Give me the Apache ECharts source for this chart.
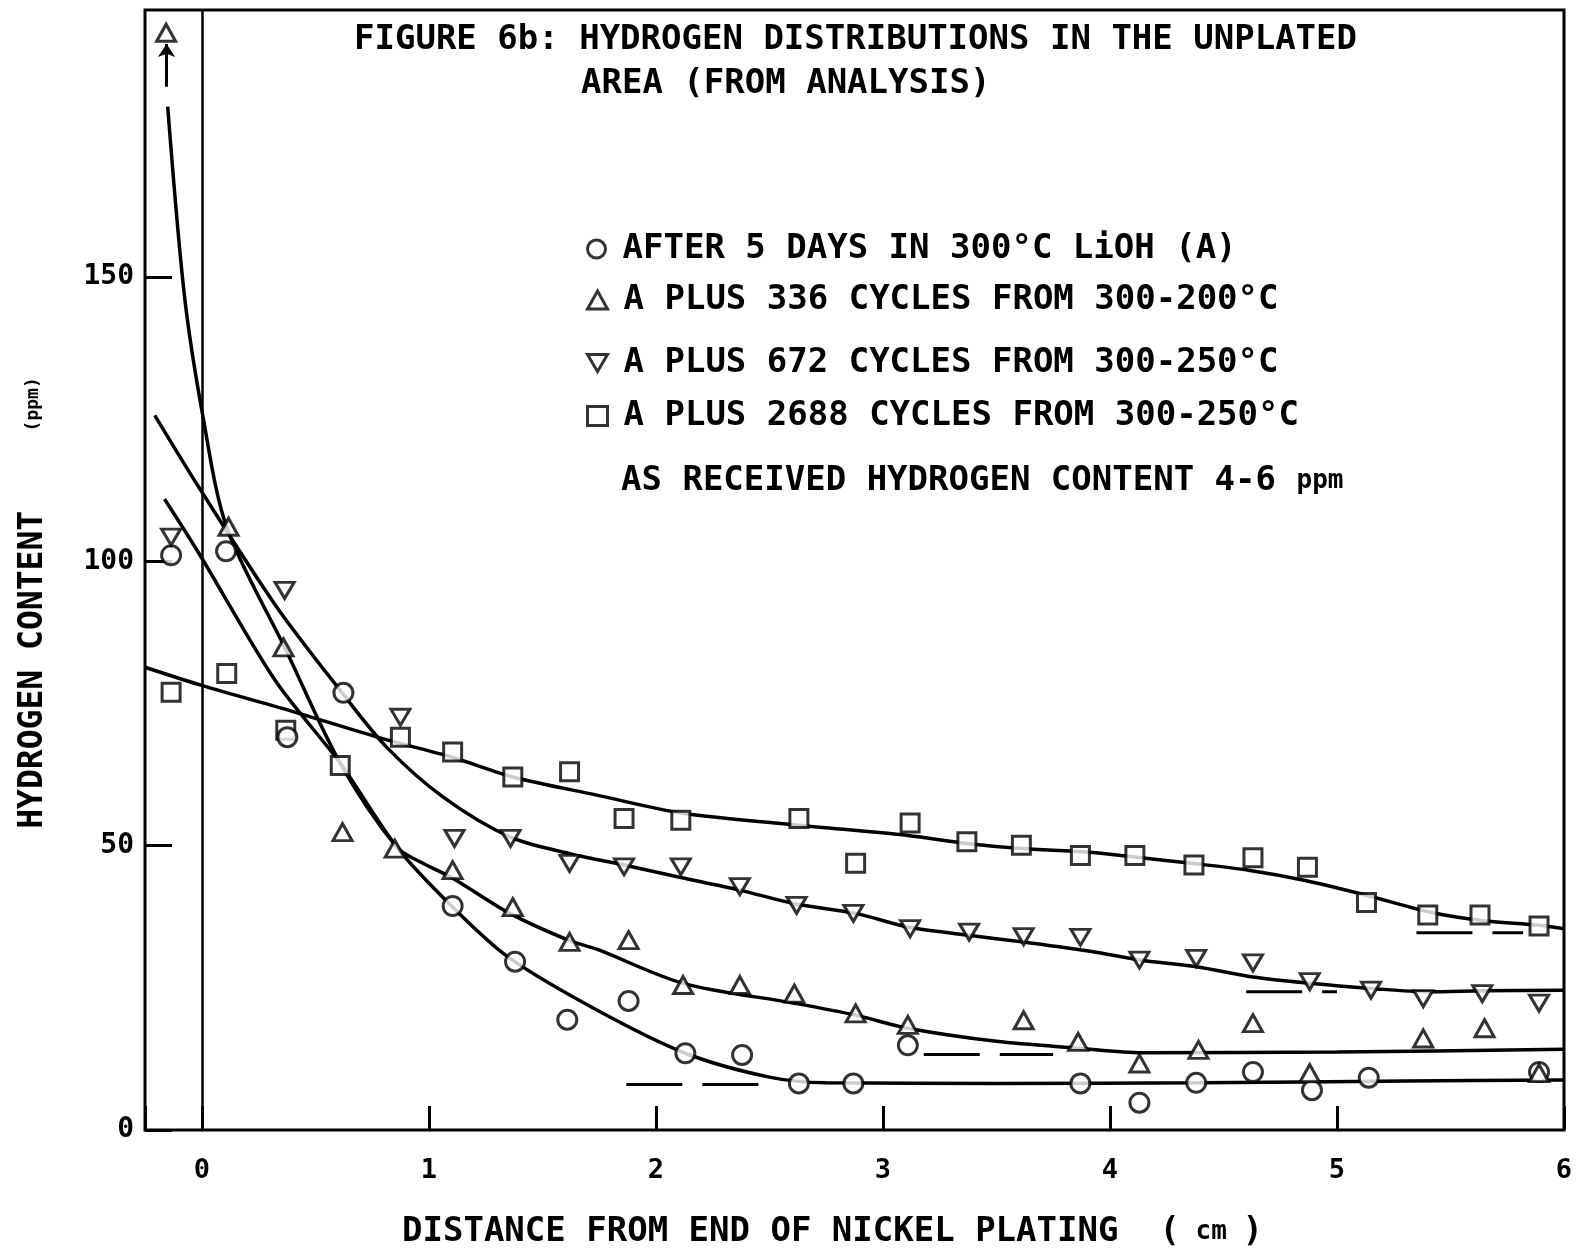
<!DOCTYPE html>
<html><head><meta charset="utf-8">
<script src="https://cdn.jsdelivr.net/npm/echarts@6/dist/echarts.min.js"></script>
<style>html,body{margin:0;padding:0;background:#fff}#c{width:1580px;height:1257px}</style>
</head><body><div id="c"></div>
<script>
// ---- tick labels ----
const xTickValues = [0, 1, 2, 3, 4, 5, 6];
const xTickLabels = ['0', '1', '2', '3', '4', '5', '6'];
const yTickValues = [0, 50, 100, 150];
const yTickLabels = ['0', '50', '100', '150'];

// ---- series names ----
const seriesNames = [
  'AFTER 5 DAYS IN 300°C LiOH (A)',
  'A PLUS 336 CYCLES FROM 300-200°C',
  'A PLUS 672 CYCLES FROM 300-250°C',
  'A PLUS 2688 CYCLES FROM 300-250°C'
];

// ---- measured points ----
const circleX = [-0.135, 0.107, 0.377, 0.624, 1.105, 1.38, 1.61, 1.88, 2.13, 2.38, 2.63, 2.87, 3.11, 3.87, 4.13, 4.38, 4.63, 4.89, 5.14, 5.89];
const circleY = [101.1, 101.8, 69.1, 76.9, 39.4, 29.6, 19.4, 22.7, 13.5, 13.2, 8.2, 8.2, 14.9, 8.2, 4.8, 8.3, 10.2, 7.0, 9.2, 10.2];

const triUpX = [-0.157, 0.118, 0.36, 0.62, 0.85, 1.105, 1.37, 1.62, 1.88, 2.12, 2.37, 2.61, 2.88, 3.11, 3.62, 3.86, 4.13, 4.39, 4.63, 4.88, 5.38, 5.65, 5.89];
const triUpY = [193, 106.1, 84.9, 52.4, 49.5, 45.7, 39.2, 33.1, 33.4, 25.5, 25.5, 24.0, 20.5, 18.5, 19.3, 15.5, 11.7, 14.1, 18.8, 10.0, 16.1, 17.9, 10.0];

const triDownX = [-0.135, 0.365, 0.875, 1.113, 1.36, 1.62, 1.86, 2.11, 2.37, 2.62, 2.87, 3.12, 3.38, 3.62, 3.87, 4.13, 4.38, 4.63, 4.88, 5.15, 5.38, 5.64, 5.89];
const triDownY = [104.3, 94.9, 72.6, 51.3, 51.3, 46.9, 46.3, 46.3, 42.8, 39.5, 38.1, 35.4, 34.8, 34.0, 33.9, 29.9, 30.2, 29.4, 26.1, 24.6, 23.1, 24.0, 22.3];

const squareX = [-0.135, 0.11, 0.37, 0.61, 0.875, 1.105, 1.37, 1.62, 1.86, 2.11, 2.63, 2.88, 3.12, 3.37, 3.61, 3.87, 4.11, 4.37, 4.63, 4.87, 5.13, 5.4, 5.63, 5.89];
const squareY = [77.0, 80.3, 70.3, 64.1, 69.1, 66.5, 62.1, 63.0, 54.8, 54.5, 54.8, 46.9, 54.0, 50.7, 50.1, 48.3, 48.3, 46.6, 47.9, 46.2, 40.0, 37.8, 37.8, 35.9];

// ---- fitted curves (hand drawn in the original) ----
const curveCircleX = [-0.164, -0.012, 0.323, 0.61, 0.86, 1.105, 1.35, 1.74, 2.13, 2.5, 2.75, 3.5, 4.4, 5.3, 6];
const curveCircleY = [111, 101.4, 79.1, 64.5, 49.7, 39.2, 30.4, 21.1, 13.5, 9.3, 8.3, 8.2, 8.3, 8.6, 8.8];

const curveTriUpX = [-0.15, -0.077, 0.003, 0.11, 0.365, 0.61, 0.86, 0.97, 1.105, 1.357, 1.62, 1.74, 2.12, 2.61, 2.88, 3.11, 3.5, 3.86, 4.14, 5.0, 6];
const curveTriUpY = [180, 147, 126, 106, 84.9, 64.5, 49.7, 47, 44.3, 38.1, 33.3, 31.8, 25.8, 22.3, 20.2, 17.9, 15.6, 14.4, 13.6, 13.7, 14.2];

const curveTriDownX = [-0.207, -0.012, 0.33, 0.62, 0.815, 1.065, 1.36, 1.62, 1.86, 2.1, 2.37, 2.61, 2.88, 3.11, 3.37, 3.61, 3.92, 4.13, 4.38, 4.63, 4.88, 5.15, 5.4, 5.65, 6];
const curveTriDownY = [125.7, 113, 92, 76.8, 67.3, 58.5, 51.5, 48.6, 46.6, 44.5, 42.2, 39.8, 38.1, 35.7, 34.3, 33.1, 31.4, 29.9, 28.7, 26.9, 25.8, 24.9, 24.3, 24.5, 24.6];

const curveSquareX = [-0.25, 0, 0.41, 0.8, 1.1, 1.37, 1.74, 2.12, 2.63, 3.11, 3.37, 3.61, 3.9, 4.11, 4.36, 4.61, 4.86, 5.13, 5.4, 5.63, 5.89, 6];
const curveSquareY = [81.4, 78.2, 73.5, 68.8, 65.6, 62.1, 58.9, 55.7, 53.6, 51.8, 50.4, 49.5, 48.9, 48.0, 46.9, 45.7, 43.9, 41.3, 38.4, 36.9, 36.0, 35.4];

// ---- dashed level segments ----
const levelY = [8.0, 13.3, 24.3, 34.7];
const levelStart = [1.87, 3.18, 4.6, 5.35];
const levelEnd = [2.49, 3.75, 5.0, 5.82];

// ---- off-scale arrow for the first triangle ----
const arrowX = -0.155;
const arrowFrom = 183.5;
const arrowTo = 191;

const FONT = 'DejaVu Sans Mono';
const zip = (xs, ys) => xs.map((x, i) => [x, ys[i]]);
const DOWN_TRI = 'path://M0,0L20,0L10,17Z';

const markerStyle = { color: '#fff', borderColor: '#000', borderWidth: 3 };
const curveStyle = { color: '#000', width: 3.5 };

function curve(name, xs, ys, extra) {
  return Object.assign({
    name: name, type: 'line', data: zip(xs, ys), showSymbol: false, symbol: 'none',
    smooth: 0.3, lineStyle: curveStyle, itemStyle: { color: '#000' }, z: 2, silent: true
  }, extra || {});
}
function marks(name, xs, ys, symbol, size, extra) {
  return Object.assign({
    name: name, type: 'scatter', data: zip(xs, ys), symbol: symbol, symbolSize: size,
    itemStyle: markerStyle, z: 5, silent: true
  }, extra || {});
}

const series = [
  curve('c0', curveCircleX, curveCircleY, {
    markLine: {
      silent: true, symbol: ['none', 'none'], label: { show: false },
      lineStyle: { color: '#000', width: 2.5, type: 'solid' },
      data: [{ xAxis: 0 }]
    }
  }),
  curve('c1', curveTriUpX, curveTriUpY),
  curve('c2', curveTriDownX, curveTriDownY),
  curve('c3', curveSquareX, curveSquareY)
];
levelY.forEach((y, i) => {
  series.push({
    name: 'lvl' + i, type: 'line', data: [[levelStart[i], y], [levelEnd[i], y]],
    showSymbol: false, symbol: 'none', silent: true, z: 1,
    lineStyle: { color: '#000', width: 3, type: [56, 20] }
  });
});
series.push(
  marks(seriesNames[3], squareX, squareY, 'rect', 18),
  marks(seriesNames[0], circleX, circleY, 'circle', 19),
  marks(seriesNames[2], triDownX, triDownY, DOWN_TRI, [19, 16]),
  marks(seriesNames[1], triUpX, triUpY, 'triangle', [19, 17], {
    markLine: {
      silent: true, symbol: ['none', 'arrow'], symbolSize: 13,
      label: { show: false }, lineStyle: { color: '#000', width: 3, type: 'solid' },
      data: [[{ coord: [arrowX, arrowFrom] }, { coord: [arrowX, arrowTo] }]]
    }
  })
);

const legendY = [249, 300, 363, 416];
const legendIcons = ['circle', 'triangle', DOWN_TRI, 'rect'];
const legends = seriesNames.map((n, i) => ({
  data: [{ name: n, icon: legendIcons[i] }],
  left: 586, top: legendY[i] - 17, padding: 0,
  itemWidth: 20, itemHeight: i === 3 ? 19 : 18, selectedMode: false,
  itemStyle: { color: '#fff', borderColor: '#000', borderWidth: 3 },
  textStyle: { fontFamily: FONT, fontSize: 34, fontWeight: 'bold', color: '#000', padding: [0, 0, 0, 11] }
}));

const bigText = { fontFamily: FONT, fontSize: 34, fontWeight: 'bold', fill: '#000' };

const option = {
  animation: false,
  backgroundColor: '#fff',
  grid: { left: 145, right: 16, top: 10, bottom: 127, show: true, borderColor: '#000', borderWidth: 3, backgroundColor: 'transparent' },
  xAxis: {
    type: 'value', min: -0.25, max: 6, minInterval: 1, maxInterval: 1,
    axisLine: { show: false, onZero: false }, splitLine: { show: false },
    axisTick: { inside: true, length: 24, lineStyle: { color: '#000', width: 3 } },
    axisLabel: {
      margin: 27, fontFamily: FONT, fontSize: 27, fontWeight: 'bold', color: '#000',
      formatter: v => { const k = xTickValues.indexOf(Math.round(v * 1000) / 1000); return k >= 0 ? xTickLabels[k] : ''; }
    }
  },
  yAxis: {
    type: 'value', min: 0, max: 197, interval: 50,
    axisLine: { show: false, onZero: false }, splitLine: { show: false },
    axisTick: { inside: true, length: 27, lineStyle: { color: '#000', width: 3 } },
    axisLabel: {
      margin: 11, fontFamily: FONT, fontSize: 28, fontWeight: 'bold', color: '#000', showMaxLabel: false,
      formatter: v => { const k = yTickValues.indexOf(v); return k >= 0 ? yTickLabels[k] : ''; }
    }
  },
  legend: legends,
  graphic: [
    { type: 'text', x: 354, y: 40, style: Object.assign({ text: 'FIGURE 6b: HYDROGEN DISTRIBUTIONS IN THE UNPLATED', align: 'left', verticalAlign: 'middle' }, bigText) },
    { type: 'text', x: 581, y: 84, style: Object.assign({ text: 'AREA (FROM ANALYSIS)', align: 'left', verticalAlign: 'middle' }, bigText) },
    { type: 'text', x: 621, y: 481, style: {
        text: '{a|AS RECEIVED HYDROGEN CONTENT 4-6 }{b|ppm}', align: 'left', verticalAlign: 'middle',
        rich: { a: { fontFamily: FONT, fontSize: 34, fontWeight: 'bold', fill: '#000', color: '#000' },
                b: { fontFamily: FONT, fontSize: 26, fontWeight: 'bold', fill: '#000', color: '#000' } } } },
    { type: 'text', x: 402, y: 1232, style: {
        text: '{a|DISTANCE FROM END OF NICKEL PLATING  (}{b| cm }{a|)}', align: 'left', verticalAlign: 'middle',
        rich: { a: { fontFamily: FONT, fontSize: 34, fontWeight: 'bold', fill: '#000', color: '#000' },
                b: { fontFamily: FONT, fontSize: 26, fontWeight: 'bold', fill: '#000', color: '#000' } } } },
    { type: 'text', x: 33, y: 603, rotation: Math.PI / 2, style: {
        text: '{a|HYDROGEN CONTENT    }{b|(ppm)}', align: 'center', verticalAlign: 'middle',
        rich: { a: { fontFamily: FONT, fontSize: 33, fontWeight: 'bold', fill: '#000', color: '#000' },
                b: { fontFamily: FONT, fontSize: 18, fontWeight: 'bold', fill: '#000', color: '#000' } } } }
  ],
  series: series
};

const chart = echarts.init(document.getElementById('c'), null, { renderer: 'canvas' });
chart.setOption(option);
</script>
</body></html>
